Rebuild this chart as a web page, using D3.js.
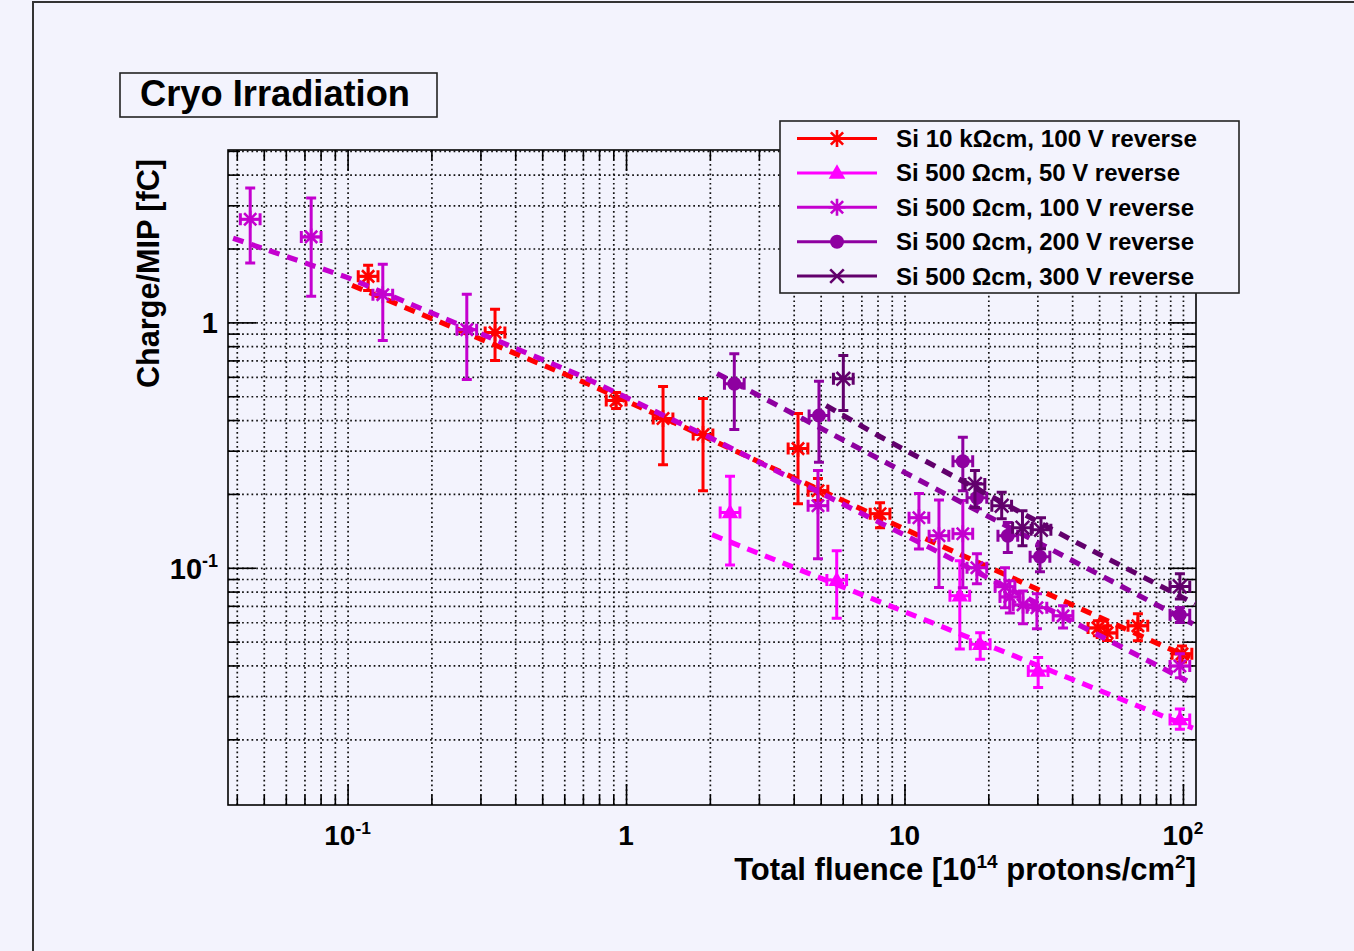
<!DOCTYPE html>
<html>
<head>
<meta charset="utf-8">
<script src="https://cdn.jsdelivr.net/npm/d3@7"></script>
<style>
  body { margin: 0; background: #f3f3fd; }
  svg { display: block; }
  text { font-family: "Liberation Sans", Arial, Helvetica, sans-serif; font-weight: bold; fill: #000; }
</style>
</head>
<body>
<svg id="chart" width="1354" height="951"></svg>
<script>
// values: [fluence (1e14 p/cm2), charge (fC), error low, error high]
const FLUENCE_ERR = 0.085

const si10k_100V = [
    [0.1185, 1.54, 1.35, 1.71],
    [0.3385, 0.91, 0.70, 1.13],
    [0.921, 0.48, 0.446, 0.518],
    [1.358, 0.406, 0.263, 0.548],
    [1.89, 0.349, 0.206, 0.49],
    [4.146, 0.306, 0.1825, 0.425],
    [4.89, 0.206, 0.188, 0.231],
    [8.17, 0.166, 0.1457, 0.1842],
    [49.5, 0.0569, 0.0528, 0.0608],
    [53.4, 0.0543, 0.0505, 0.058],
    [68.9, 0.058, 0.0504, 0.0649],
    [99.2, 0.0446, 0.0413, 0.048]
]
const si500_50V = [
    [2.363, 0.168, 0.1026, 0.236],
    [5.71, 0.0891, 0.0623, 0.1173],
    [15.8, 0.0769, 0.0467, 0.1068],
    [18.7, 0.0488, 0.0424, 0.0544],
    [30.2, 0.038, 0.0325, 0.0431],
    [97.5, 0.0241, 0.022, 0.0266]
]
const si500_100V = [
    [0.0447, 2.63, 1.746, 3.53],
    [0.074, 2.23, 1.277, 3.21],
    [0.1338, 1.297, 0.844, 1.725],
    [0.268, 0.934, 0.585, 1.301],
    [4.89, 0.179, 0.1088, 0.249],
    [11.27, 0.16, 0.1192, 0.201],
    [13.3, 0.1351, 0.0831, 0.189],
    [16.2, 0.1377, 0.083, 0.188],
    [18.2, 0.1, 0.086, 0.114],
    [22.96, 0.0837, 0.0687, 0.1],
    [23.9, 0.0761, 0.0655, 0.0885],
    [26.65, 0.0706, 0.0591, 0.0805],
    [29.9, 0.0687, 0.0564, 0.0783],
    [37.1, 0.0637, 0.0569, 0.07],
    [97.5, 0.0398, 0.0356, 0.0446]
]
const si500_200V = [
    [2.448, 0.562, 0.366, 0.745],
    [4.93, 0.417, 0.269, 0.576],
    [16.2, 0.2716, 0.2062, 0.34],
    [18.2, 0.193, 0.174, 0.2203],
    [23.5, 0.1351, 0.1155, 0.153],
    [30.66, 0.1109, 0.0963, 0.123],
    [97.5, 0.0643, 0.0598, 0.0689]
]
const si500_300V = [
    [6.03, 0.589, 0.437, 0.733],
    [17.91, 0.2197, 0.1762, 0.249],
    [22.34, 0.1791, 0.1585, 0.203],
    [26.53, 0.1457, 0.123, 0.1709],
    [30.92, 0.143, 0.1196, 0.16],
    [97.5, 0.0839, 0.0747, 0.0945]
]

// fitted curves, read as a few points along each dashed line
const fit10k_100V = [[0.1038, 1.416], [0.7244, 0.5636], [1.358, 0.4096], [12.35, 0.1289], [105.9, 0.0429]]
const fit500_50V = [[2.036, 0.1364], [13.41, 0.058], [108.6, 0.0222]]
const fit500_100V = [[0.0388, 2.203], [0.0996, 1.526], [0.6836, 0.608], [2.002, 0.3393], [12.35, 0.1207], [103.4, 0.0346]]
const fit500_200V = [[2.122, 0.619], [13.98, 0.2004], [108.6, 0.0591]]
const fit500_300V = [[5.225, 0.4584], [8.17, 0.3424], [41.64, 0.1265], [110.4, 0.0713]]

const seriesNames = ["Si 10 kΩcm, 100 V reverse", "Si 500 Ωcm, 50 V reverse", "Si 500 Ωcm, 100 V reverse",
    "Si 500 Ωcm, 200 V reverse", "Si 500 Ωcm, 300 V reverse"]
const seriesColors = ["#ff0000", "#ff00ff", "#c400cf", "#8e00a0", "#62006c"]
const seriesMarkers = ["star", "triangle", "star", "circle", "cross"]
const seriesPoints = [si10k_100V, si500_50V, si500_100V, si500_200V, si500_300V]
const seriesFits = [fit10k_100V, fit500_50V, fit500_100V, fit500_200V, fit500_300V]

const xDomain = [0.0372, 111.4]
const yDomain = [0.0108, 5.04]

const svg = d3.select("#chart")
var margin = { left: 228, right: 1196, top: 150, bottom: 805 }
var plotW = margin.right - margin.left,
    plotH = margin.bottom - margin.top

// outer pad frame
svg.append("rect")
    .attr("x", 33).attr("y", 2).attr("width", 1400).attr("height", 1000)
    .attr("fill", "#f3f3fd").attr("stroke", "#333").attr("stroke-width", 2)

var x = d3.scaleLog().domain(xDomain).range([margin.left, margin.right])
var y = d3.scaleLog().domain(yDomain).range([margin.bottom, margin.top])

function isDecade(v) {
    const l = Math.log10(v)
    return Math.abs(l - Math.round(l)) < 1e-6
}
const xTicks = x.ticks()
const yTicks = y.ticks()
const xMajor = xTicks.filter(isDecade), xMinor = xTicks.filter(v => !isDecade(v))
const yMajor = yTicks.filter(isDecade), yMinor = yTicks.filter(v => !isDecade(v))

// grid
function styleGrid(g) {
    g.select(".domain").remove()
    g.selectAll("line").attr("stroke", "#111").attr("stroke-width", 1.7).attr("stroke-dasharray", "1.7,3")
}
svg.append("g")
    .attr("transform", "translate(0," + margin.bottom + ")")
    .call(d3.axisBottom(x).tickValues(xTicks).tickSize(-plotH).tickFormat(""))
    .call(styleGrid)
svg.append("g")
    .attr("transform", "translate(" + margin.left + ",0)")
    .call(d3.axisLeft(y).tickValues(yTicks).tickSize(-plotW).tickFormat(""))
    .call(styleGrid)

// ticks on all four sides
function styleTicks(g) {
    g.select(".domain").remove()
    g.selectAll("line").attr("stroke", "#000").attr("stroke-width", 1.6)
}
const tickSets = [
    [d3.axisBottom, "translate(0," + margin.bottom + ")", x, xMajor, 21],
    [d3.axisBottom, "translate(0," + margin.bottom + ")", x, xMinor, 10],
    [d3.axisTop, "translate(0," + margin.top + ")", x, xMajor, 21],
    [d3.axisTop, "translate(0," + margin.top + ")", x, xMinor, 10],
    [d3.axisLeft, "translate(" + margin.left + ",0)", y, yMajor, 28],
    [d3.axisLeft, "translate(" + margin.left + ",0)", y, yMinor, 12],
    [d3.axisRight, "translate(" + margin.right + ",0)", y, yMajor, 28],
    [d3.axisRight, "translate(" + margin.right + ",0)", y, yMinor, 12]
]
tickSets.forEach(t => {
    svg.append("g").attr("transform", t[1])
        .call(t[0](t[2]).tickValues(t[3]).tickSize(-t[4]).tickFormat(""))
        .call(styleTicks)
})

// frame
svg.append("rect")
    .attr("x", margin.left).attr("y", margin.top).attr("width", plotW).attr("height", plotH)
    .attr("fill", "none").attr("stroke", "#000").attr("stroke-width", 1.6)

// axis labels
function powerLabel(g, px, py, anchor, v, size) {
    const e = Math.round(Math.log10(v))
    const t = g.append("text").attr("x", px).attr("y", py).attr("text-anchor", anchor).style("font-size", size + "px")
    if (e === 0) t.text("1")
    else if (e === 1) t.text("10")
    else {
        t.append("tspan").text("10")
        t.append("tspan").attr("dy", -size * 0.4).style("font-size", (size * 0.62) + "px").text(e < 0 ? "-" + (-e) : e)
    }
}
const labels = svg.append("g")
xMajor.forEach(v => powerLabel(labels, x(v), 845, "middle", v, 28))
yMajor.forEach(v => powerLabel(labels, 218, y(v) + 11, "end", v, 29))

const xTitle = labels.append("text").attr("x", 1196).attr("y", 880).attr("text-anchor", "end").style("font-size", "31px")
xTitle.append("tspan").text("Total fluence [10")
xTitle.append("tspan").attr("dy", -12).style("font-size", "19px").text("14")
xTitle.append("tspan").attr("dy", 12).text(" protons/cm")
xTitle.append("tspan").attr("dy", -12).style("font-size", "19px").text("2")
xTitle.append("tspan").attr("dy", 12).text("]")

labels.append("text")
    .attr("transform", "translate(159,388) rotate(-90)")
    .style("font-size", "31px")
    .attr("textLength", 229).attr("lengthAdjust", "spacingAndGlyphs")
    .text("Charge/MIP [fC]")

// markers
function drawMarker(g, kind, cx, cy, color, scale) {
    const r = 8.5 * scale
    if (kind === "star") {
        const d = 0.72 * r
        g.append("path")
            .attr("d", `M${cx - r},${cy}h${2 * r}M${cx},${cy - r}v${2 * r}M${cx - d},${cy - d}l${2 * d},${2 * d}M${cx - d},${cy + d}l${2 * d},${-2 * d}`)
            .attr("stroke", color).attr("stroke-width", 2.6).attr("fill", "none")
    } else if (kind === "cross") {
        const d = 0.8 * r
        g.append("path")
            .attr("d", `M${cx - d},${cy - d}l${2 * d},${2 * d}M${cx - d},${cy + d}l${2 * d},${-2 * d}`)
            .attr("stroke", color).attr("stroke-width", 2.6).attr("fill", "none")
    } else if (kind === "circle") {
        g.append("circle").attr("cx", cx).attr("cy", cy).attr("r", 7 * scale).attr("fill", color)
    } else if (kind === "triangle") {
        g.append("path")
            .attr("d", d3.symbol(d3.symbolTriangle, 120 * scale * scale)())
            .attr("transform", "translate(" + cx + "," + (cy + 1) + ")")
            .attr("fill", color)
    }
}

svg.append("clipPath").attr("id", "plotclip")
    .append("rect").attr("x", margin.left).attr("y", margin.top).attr("width", plotW).attr("height", plotH)

var line = d3.line().x(d => x(d[0])).y(d => y(d[1]))

seriesPoints.forEach((pts, i) => {
    const color = seriesColors[i]
    const g = svg.append("g").attr("clip-path", "url(#plotclip)")
    pts.forEach(p => {
        const cx = x(p[0]), cy = y(p[1])
        const yl = y(p[2]), yh = y(p[3])
        const xl = x(p[0] / (1 + FLUENCE_ERR)), xh = x(p[0] * (1 + FLUENCE_ERR))
        g.append("path")
            .attr("d", `M${cx},${yl}V${yh}M${cx - 5},${yl}h10M${cx - 5},${yh}h10` +
                `M${xl},${cy}H${xh}M${xl},${cy - 6}v12M${xh},${cy - 6}v12`)
            .attr("stroke", color).attr("stroke-width", 3).attr("fill", "none")
        drawMarker(g, seriesMarkers[i], cx, cy, color, 1)
    })
    g.append("path")
        .datum(seriesFits[i])
        .attr("d", line)
        .attr("fill", "none").attr("stroke", color)
        .attr("stroke-width", 5.2).attr("stroke-dasharray", "11,8")
})

// title box
svg.append("rect").attr("x", 120).attr("y", 73).attr("width", 317).attr("height", 44)
    .attr("fill", "#f3f3fd").attr("stroke", "#222").attr("stroke-width", 1.6)
svg.append("text").attr("x", 140).attr("y", 106).style("font-size", "37px")
    .attr("textLength", 270).attr("lengthAdjust", "spacingAndGlyphs")
    .text("Cryo Irradiation")

// legend
const legend = svg.append("g")
legend.append("rect").attr("x", 780).attr("y", 121).attr("width", 459).attr("height", 172)
    .attr("fill", "#f3f3fd").attr("stroke", "#222").attr("stroke-width", 1.6)
const legendWidths = [301, 284, 298, 298, 298]
seriesNames.forEach((name, i) => {
    const ly = 138.5 + i * 34.4
    legend.append("line").attr("x1", 797).attr("x2", 877).attr("y1", ly).attr("y2", ly)
        .attr("stroke", seriesColors[i]).attr("stroke-width", 3)
    drawMarker(legend, seriesMarkers[i], 837, ly, seriesColors[i], 1)
    legend.append("text").attr("x", 896).attr("y", ly + 8.5).style("font-size", "24px")
        .attr("textLength", legendWidths[i]).attr("lengthAdjust", "spacingAndGlyphs")
        .text(name)
})
</script>
</body>
</html>
